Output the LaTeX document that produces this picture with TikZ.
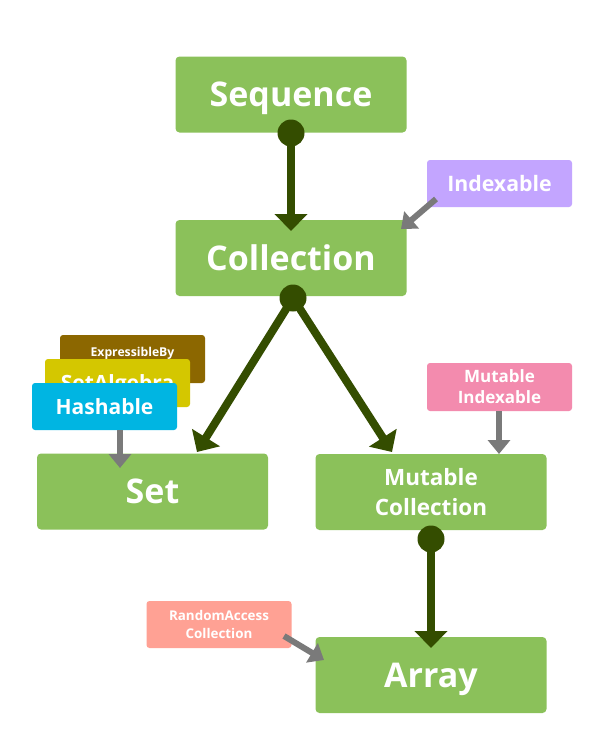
\documentclass[tikz,border=0pt]{standalone}
\usepackage{fontspec}
\setmainfont{Open Sans}
\usetikzlibrary{arrows.meta}
\definecolor{boxgreen}{HTML}{8BC15A}
\definecolor{darkgreen}{HTML}{344D00}
\definecolor{lavender}{HTML}{C3A5FF}
\definecolor{pinkbox}{HTML}{F38BAE}
\definecolor{salmon}{HTML}{FFA194}
\definecolor{cyanbox}{HTML}{00B5E2}
\definecolor{yellowbox}{HTML}{D4C700}
\definecolor{brownbox}{HTML}{8C6700}
\definecolor{grayarrow}{HTML}{7A7A7A}
\begin{document}
\begin{tikzpicture}[x=1pt,y=-1pt,
  every node/.style={text=white,font=\bfseries,inner sep=0pt,align=center},
  bigbox/.style={fill=boxgreen,rounded corners=4pt,minimum width=231pt,minimum height=76pt},
  smallbox/.style={rounded corners=3pt,minimum width=145pt,minimum height=47pt},
  bigtext/.style={font=\bfseries\fontsize{34}{38}\selectfont,text height=24.5pt,text depth=0pt},
  mainarrow/.style={draw=darkgreen,line width=8pt,-{Triangle[width=32pt,length=17pt]}},
  dotst/.style={fill=darkgreen},
  protoarrow/.style={draw=grayarrow,line width=6pt,-{Triangle[width=22pt,length=14pt]}}]
\useasboundingbox (0,0) rectangle (600,750);
\fill[white] (0,0) rectangle (600,750);
% main boxes
\node[bigbox,bigtext] (seq) at (291,94.5) {Sequence};
\node[bigbox,bigtext] (coll) at (291,258) {Collection};
\node[bigbox,bigtext] (set) at (152.5,491.5) {Set};
\node[bigbox,font=\bfseries\fontsize{22.5}{30}\selectfont] (mcoll) at (431,492) {Mutable\\Collection};
\node[bigbox,bigtext] (arr) at (431,675) {Array};
% protocol boxes
\node[smallbox,fill=lavender,font=\bfseries\fontsize{21.3}{24}\selectfont,text height=15.3pt,text depth=0pt] (idx) at (499.5,183.5) {Indexable};
\node[smallbox,fill=pinkbox,minimum height=48pt,font=\bfseries\fontsize{17}{21}\selectfont] (midx) at (499.5,387) {Mutable\\Indexable};
\node[smallbox,fill=salmon,font=\bfseries\fontsize{13.4}{17.5}\selectfont] (rac) at (219,624.5) {RandomAccess\\Collection};
\node[smallbox,fill=brownbox,minimum height=48pt] (exp) at (132.5,359) {};
\node[font=\bfseries\fontsize{12.2}{14}\selectfont,text height=8.8pt,text depth=0pt] (expt) at (132.5,352.5) {ExpressibleBy};
\node[smallbox,fill=yellowbox,minimum height=48pt,font=\bfseries\fontsize{21}{24}\selectfont,text height=15.1pt,text depth=0pt] (salg) at (117.5,383) {SetAlgebra};
\node[smallbox,fill=cyanbox,font=\bfseries\fontsize{21}{24}\selectfont,text height=15.1pt,text depth=0pt] (hash) at (104.5,406.5) {Hashable};
% coordinates
\coordinate (d1) at (291,133);
\coordinate (t1) at (291,231);
\coordinate (d2) at (293,298);
\coordinate (t2) at (197,452);
\coordinate (t3) at (392,452);
\coordinate (d3) at (431,539);
\coordinate (t4) at (431,648);
\coordinate (i1) at (436,199);
\coordinate (i2) at (401,229);
\coordinate (m1) at (499,411);
\coordinate (m2) at (499,454);
\coordinate (h1) at (120,430);
\coordinate (h2) at (120,468);
\coordinate (r1) at (284,636);
\coordinate (r2) at (324,660);
% main arrows
\draw[mainarrow] (d1) -- (t1);
\draw[mainarrow] (d2) -- (t2);
\draw[mainarrow] (d2) -- (t3);
\draw[mainarrow] (d3) -- (t4);
\fill[dotst] (d1) circle (13.5pt);
\fill[dotst] (d2) circle (13.5pt);
\fill[dotst] (d3) circle (13.5pt);
% protocol arrows
\draw[protoarrow] (i1) -- (i2);
\draw[protoarrow] (m1) -- (m2);
\draw[protoarrow] (h1) -- (h2);
\draw[protoarrow] (r1) -- (r2);
\end{tikzpicture}
\end{document}
